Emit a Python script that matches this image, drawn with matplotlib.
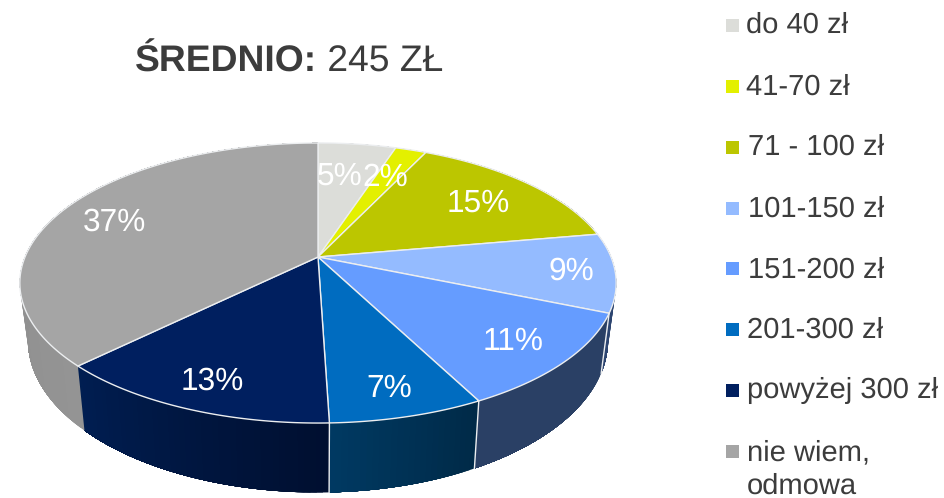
import numpy as np
import matplotlib
matplotlib.use("Agg")
import matplotlib.pyplot as plt
from matplotlib.colors import to_rgb

plt.rcParams["font.family"] = ["Liberation Sans", "DejaVu Sans"]
plt.rcParams["text.hinting"] = "no_hinting"

# Data
categories = ["do 40 zł", "41-70 zł", "71 - 100 zł", "101-150 zł", "151-200 zł",
              "201-300 zł", "powyżej 300 zł", "nie wiem,\nodmowa"]
shares = [5, 2, 15, 9, 11, 7, 13, 37]
title_bold = "ŚREDNIO:"
title_rest = " 245 ZŁ"

# Colours per slice: top face, then side colour at start and end of the slice
top_colors = ["#dcddd9", "#e3f000", "#bcc600", "#94bbff", "#659cff", "#006cc0", "#001f5f", "#a5a5a5"]
side_start = ["#a0a09c", "#a0a800", "#808800", "#2f4772", "#2a4065", "#002a48", "#000f30", "#949494"]
side_end = ["#a0a09c", "#a0a800", "#808800", "#2d4570", "#2a4065", "#003a63", "#001e52", "#868686"]
edge = "#eceef0"
text_col = "#3c3c3c"

# Layout in pixels
label_x = [340, 385, 478, 571, 513, 389, 212, 114]
label_y = [176, 178, 203, 271, 342, 389, 381, 222]
legend_y = [25, 86, 147, 208, 268, 329, 390, 451]
legend_base = [33, 95, 155, 217, 278, 338, 398, 460]
legend_text_x = [746, 746, 748, 748, 748, 747, 747, 747]

# Perspective of the pie
CX, CY = 318, 257
K = 0.1857
TOP_A, TOP_G = 293, 135.2
BOT_A, BOT_CY, BOT_G = 285, 312, 147


def rim(theta, bottom=False):
    # theta in degrees, clockwise from 12 o'clock
    t = np.radians(theta)
    X = np.sin(t)
    Y = -np.cos(t)
    w = 1 - K * Y
    if bottom:
        return CX + BOT_A * X / w, BOT_CY + BOT_G * Y / w
    return CX + TOP_A * X / w, CY + TOP_G * Y / w


def mix(c1, c2, t):
    a = np.array(to_rgb(c1))
    b = np.array(to_rgb(c2))
    return tuple(a + (b - a) * t)


fig = plt.figure(figsize=(9.44, 4.98), dpi=100)
ax = fig.add_axes([0, 0, 1, 1])
ax.set_xlim(0, 944)
ax.set_ylim(498, 0)
ax.axis("off")

edges = np.cumsum([0] + shares) / sum(shares) * 360

# Sides first, each strip runs on under the next one so no seams show
for i in range(len(shares)):
    a0, a1 = edges[i], edges[i + 1]
    steps = np.linspace(a0, a1, max(int(a1 - a0), 2) + 1)
    for j in range(len(steps) - 1):
        col = mix(side_start[i], side_end[i], j / (len(steps) - 1))
        th = steps[j:]
        xt, yt = rim(th)
        xb, yb = rim(th, True)
        ax.fill(np.r_[xt, xb[::-1]], np.r_[yt, yb[::-1]], color=col, lw=0, zorder=1)

# Edges on the side between slices
for a in edges[3:-2]:
    x0, y0 = rim(a)
    x1, y1 = rim(a, True)
    ax.plot([x0, x1], [y0, y1], color=edge, lw=1, zorder=2)

# Top face
for i in range(len(shares)):
    th = np.linspace(edges[i], edges[i + 1], 120)
    xs, ys = rim(th)
    ax.fill(np.r_[CX, xs], np.r_[CY, ys], facecolor=top_colors[i], edgecolor=edge, lw=1, zorder=3)
    ax.text(label_x[i], label_y[i], "%d%%" % shares[i], color="white", fontsize=22.8,
            ha="center", va="center", zorder=5)

# Title
t1 = ax.text(135, 72, title_bold, fontsize=26.8, fontweight="bold", color=text_col,
             ha="left", va="baseline")
ax.annotate(title_rest, xy=(1, 0), xycoords=t1, fontsize=26.8, color=text_col,
            ha="left", va="bottom")

# Legend
for i, name in enumerate(categories):
    ax.fill([726, 739, 739, 726],
            [legend_y[i] - 6.5, legend_y[i] - 6.5, legend_y[i] + 6.5, legend_y[i] + 6.5],
            color=top_colors[i], lw=0)
    lines = name.split("\n")
    for n, line in enumerate(lines):
        ax.text(legend_text_x[i], legend_base[i] + n * 34, line, fontsize=21, color=text_col,
                ha="left", va="baseline")

fig.savefig("out.png", dpi=100)
